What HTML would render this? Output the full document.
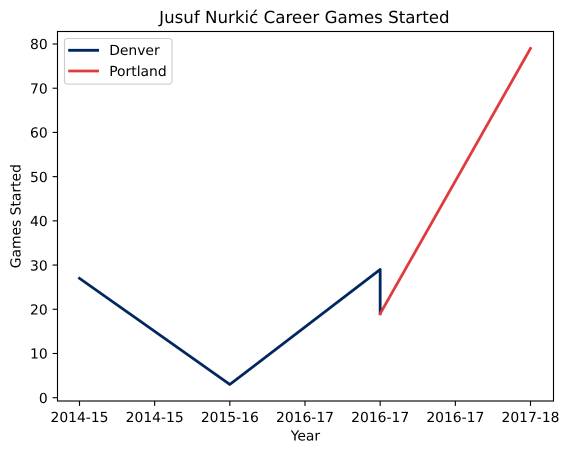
<!DOCTYPE html>
<html>
<head>
<meta charset="utf-8">
<title>Jusuf Nurkić Career Games Started</title>
<style>
html,body{margin:0;padding:0;background:#fff;width:569px;height:454px;overflow:hidden}
svg{display:block}
text{font-family:"DejaVu Sans",sans-serif;fill:#000;text-rendering:geometricPrecision}
</style>
</head>
<body>
<svg id="chart" width="569" height="454" viewBox="0 0 569 454" xmlns="http://www.w3.org/2000/svg">
  <rect x="0" y="0" width="569" height="454" fill="#fff"/>
  <g id="marks"></g>
  <g id="xticks"></g>
  <g id="yticks"></g>
  <rect x="57.5" y="31.5" width="496" height="369.5" fill="none" stroke="#000" stroke-width="1.11"/>
  <text x="304.4" y="22.8" font-size="16.67" text-anchor="middle">Jusuf Nurkić Career Games Started</text>
  <text x="305.4" y="440.6" font-size="13.89" text-anchor="middle">Year</text>
  <text transform="translate(20.5 216.2) rotate(-90)" font-size="13.89" text-anchor="middle">Games Started</text>
  <g>
    <rect x="64.5" y="38.5" width="107.5" height="45.6" rx="2.8" ry="2.8" fill="#fff" fill-opacity="0.8" stroke="#ccc" stroke-width="1.11"/>
    <line x1="69.6" x2="97.6" y1="50.3" y2="50.3" stroke="#00285e" stroke-width="2.78" stroke-linecap="square"/>
    <text x="109.2" y="55.2" font-size="13.89">Denver</text>
    <line x1="69.6" x2="97.6" y1="71" y2="71" stroke="#e03a3e" stroke-width="2.78" stroke-linecap="square"/>
    <text x="109.2" y="75.9" font-size="13.89">Portland</text>
  </g>
</svg>
<script>
const xTickLabels = ["2014-15", "2014-15", "2015-16", "2016-17", "2016-17", "2016-17", "2017-18"];
const xTickPositions = [0, 1, 2, 3, 4, 5, 6];
const yTickValues = [0, 10, 20, 30, 40, 50, 60, 70, 80];
const denverX = [0, 2, 4, 4];
const denverGames = [27, 3, 29, 19];
const portlandX = [4, 6];
const portlandGames = [19, 79];

const NS = 'http://www.w3.org/2000/svg';
function xScale(v) { return 79.5 + (v / 6) * (530.5 - 79.5); }
function yScale(v) { return 397.7 - (v / 80) * (397.7 - 44); }

function drawSeries(xs, ys, color) {
  const line = document.createElementNS(NS, 'polyline');
  line.setAttribute('points', xs.map((x, i) => xScale(x).toFixed(2) + ',' + yScale(ys[i]).toFixed(2)).join(' '));
  line.setAttribute('fill', 'none');
  line.setAttribute('stroke', color);
  line.setAttribute('stroke-width', '2.78');
  line.setAttribute('stroke-linecap', 'square');
  line.setAttribute('stroke-linejoin', 'round');
  document.getElementById('marks').appendChild(line);
  return line;
}

const denverLine = drawSeries(denverX, denverGames, '#00285e');


const portlandLine = drawSeries(portlandX, portlandGames, '#e03a3e');



xTickPositions.forEach((p, i) => {
  const px = xScale(p);
  const tick = document.createElementNS(NS, 'line');
  
  
  tick.setAttribute('x1', px);
  tick.setAttribute('x2', px);
  tick.setAttribute('y1', 401);
  tick.setAttribute('y2', 405.9);
  tick.setAttribute('stroke', '#000');
  tick.setAttribute('stroke-width', '1.11');
  document.getElementById('xticks').appendChild(tick);
  const label = document.createElementNS(NS, 'text');
  
  
  label.setAttribute('x', px);
  label.setAttribute('y', 422);
  label.setAttribute('font-size', '13.89');
  label.setAttribute('text-anchor', 'middle');
  label.textContent = xTickLabels[i];
  document.getElementById('xticks').appendChild(label);
});

yTickValues.forEach((v) => {
  const py = yScale(v);
  const tick = document.createElementNS(NS, 'line');
  
  
  tick.setAttribute('x1', 52.6);
  tick.setAttribute('x2', 57.5);
  tick.setAttribute('y1', py);
  tick.setAttribute('y2', py);
  tick.setAttribute('stroke', '#000');
  tick.setAttribute('stroke-width', '1.11');
  document.getElementById('yticks').appendChild(tick);
  const label = document.createElementNS(NS, 'text');
  
  
  label.setAttribute('x', 47.7);
  label.setAttribute('y', py + 5.2);
  label.setAttribute('font-size', '13.89');
  label.setAttribute('text-anchor', 'end');
  label.textContent = v;
  document.getElementById('yticks').appendChild(label);
});
</script>
</body>
</html>
